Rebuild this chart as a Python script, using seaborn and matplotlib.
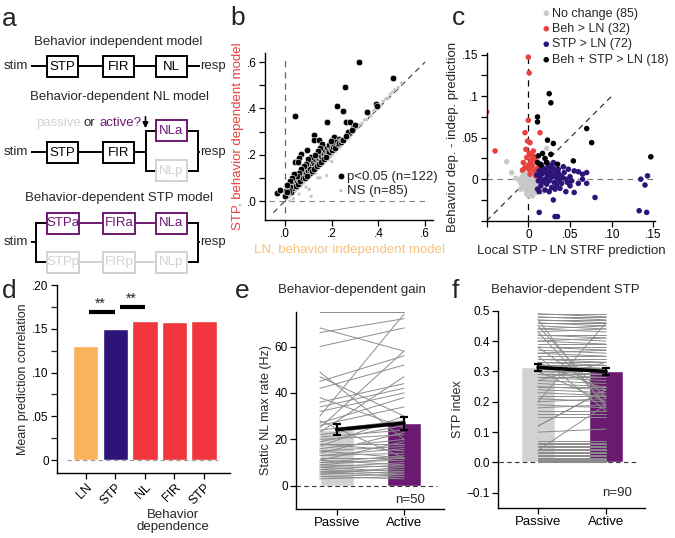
import numpy as np
import pandas as pd
import matplotlib
matplotlib.use('Agg')
import matplotlib.pyplot as plt
from matplotlib.patches import Rectangle
import matplotlib.transforms as mtransforms
import seaborn as sns

# ---------------- data ----------------
# panel b: significant (black) and NS (gray) cells
b_sig_x = [0.318, 0.461, 0.256, 0.043, 0.224, 0.250, 0.179, 0.262, 0.280, 0.353, 0.390, 0.293, 0.276,
           0.124, 0.125, 0.146, 0.160, 0.200, 0.210, 0.230, 0.093, 0.070, 0.060, 0.043, 0.036, -0.036,
           -0.021, 0.000, 0.025, 0.002, 0.054, 0.392, 0.235, 0.270,
           0.030, 0.035, 0.040, 0.045, 0.050, 0.055, 0.060, 0.065, 0.070, 0.075, 0.080, 0.085, 0.090,
           0.095, 0.100, 0.100, 0.105, 0.110, 0.110, 0.115, 0.120, 0.120, 0.125, 0.130, 0.130, 0.135,
           0.140, 0.140, 0.145, 0.150, 0.150, 0.155, 0.160, 0.160, 0.165, 0.170, 0.170, 0.175, 0.180,
           0.180, 0.185, 0.190, 0.190, 0.195, 0.200, 0.200, 0.205, 0.210, 0.215, 0.220, 0.225, 0.230,
           0.240, 0.245, 0.250, 0.030, 0.020, 0.015, 0.010, 0.045, 0.055, 0.065, 0.075, 0.085, 0.095,
           0.105, 0.115, 0.125, 0.135, 0.145, 0.155, 0.165, 0.175, 0.110, 0.100, 0.090, 0.080, 0.070,
           0.150, 0.140, 0.130, 0.060, 0.050, 0.040, 0.028, 0.020, 0.010, 0.300, 0.285, 0.260, 0.195]
b_sig_y = [0.601, 0.532, 0.493, 0.367, 0.410, 0.390, 0.340, 0.340, 0.340, 0.385, 0.420, 0.316, 0.295,
           0.286, 0.262, 0.262, 0.245, 0.262, 0.275, 0.266, 0.220, 0.203, 0.185, 0.170, 0.100, 0.036,
           0.047, 0.020, 0.040, 0.043, 0.170, 0.410, 0.260, 0.300,
           0.075, 0.065, 0.085, 0.095, 0.080, 0.100, 0.090, 0.110, 0.095, 0.120, 0.105, 0.125, 0.115,
           0.140, 0.130, 0.150, 0.120, 0.160, 0.140, 0.150, 0.135, 0.170, 0.155, 0.180, 0.145, 0.165,
           0.185, 0.160, 0.175, 0.200, 0.170, 0.190, 0.210, 0.180, 0.200, 0.220, 0.190, 0.205, 0.230,
           0.200, 0.215, 0.240, 0.210, 0.225, 0.250, 0.220, 0.235, 0.245, 0.230, 0.255, 0.245, 0.250,
           0.255, 0.262, 0.265, 0.055, 0.060, 0.045, 0.038, 0.065, 0.075, 0.085, 0.100, 0.100, 0.110,
           0.140, 0.130, 0.140, 0.150, 0.160, 0.170, 0.180, 0.190, 0.190, 0.180, 0.160, 0.150, 0.140,
           0.230, 0.215, 0.200, 0.120, 0.110, 0.115, 0.100, 0.085, 0.070, 0.330, 0.305, 0.280, 0.260]
b_ns_x = [0.005, 0.012, 0.018, 0.025, 0.030, 0.038, 0.042, 0.050, 0.055, 0.062, 0.068, 0.072, 0.080,
          0.085, 0.090, 0.095, 0.100, 0.104, 0.108, 0.112, 0.115, 0.120, 0.125, 0.130, 0.135, 0.140,
          0.145, 0.150, 0.152, 0.158, 0.162, 0.168, 0.172, 0.178, 0.180, 0.185, 0.190, 0.195, 0.200,
          0.205, 0.210, 0.215, 0.220, 0.225, 0.230, 0.235, 0.240, 0.245, 0.250, 0.255, 0.260, 0.265,
          0.270, 0.275, 0.280, 0.285, 0.290, 0.295, 0.300, 0.310, 0.315, 0.320, 0.330, 0.340, 0.350,
          0.360, 0.370, 0.380, 0.390, 0.400, 0.410, 0.420, 0.430, 0.440, 0.450, 0.460, 0.470, 0.485,
          0.500, 0.060, 0.090, 0.035, 0.020, 0.140, 0.200]
b_ns_y = [0.010, 0.030, 0.020, 0.035, 0.028, 0.050, 0.040, 0.060, 0.052, 0.070, 0.065, 0.085, 0.078,
          0.090, 0.100, 0.092, 0.112, 0.050, 0.108, 0.020, 0.125, 0.118, 0.130, 0.120, 0.142, 0.138,
          0.150, 0.100, 0.160, 0.155, 0.170, 0.165, 0.180, 0.110, 0.185, 0.178, 0.195, 0.190, 0.210,
          0.200, 0.218, 0.212, 0.225, 0.232, 0.228, 0.240, 0.238, 0.250, 0.255, 0.260, 0.262, 0.270,
          0.280, 0.272, 0.290, 0.285, 0.300, 0.298, 0.310, 0.315, 0.325, 0.330, 0.335, 0.350, 0.352,
          0.370, 0.368, 0.390, 0.395, 0.410, 0.415, 0.430, 0.440, 0.445, 0.460, 0.470, 0.480, 0.490,
          0.510, 0.030, 0.060, 0.010, 0.000, 0.100, 0.170]

# panel c: four groups
c_gray_x = [-0.050, -0.026, -0.020, -0.015, 0.022, 0.017, 0.000, 0.005, -0.005, -0.010, -0.008, -0.006,
            -0.004, -0.003, -0.002, -0.001, 0.000, 0.001, 0.002, 0.003, 0.004, 0.005, 0.006, 0.007,
            0.008, 0.009, 0.010, 0.011, 0.012, 0.013, 0.014, -0.007, -0.009, 0.000, 0.003, 0.006,
            -0.002, 0.002, -0.004, 0.008, 0.004, -0.001, 0.005, 0.009, -0.006, 0.001, 0.007, -0.003,
            0.011, 0.002, -0.005, 0.006, 0.000, 0.003, -0.008, 0.012, 0.010, -0.002, 0.004, 0.007]
c_gray_y = [0.005, 0.021, 0.008, 0.001, 0.037, -0.015, -0.020, -0.020, -0.010, -0.003, 0.002, -0.006,
            0.004, -0.002, 0.006, -0.008, 0.000, 0.003, -0.004, 0.008, -0.012, 0.001, -0.006, 0.005,
            -0.002, -0.009, 0.002, -0.005, 0.008, -0.012, -0.001, 0.009, -0.012, -0.014, -0.016, 0.010,
            0.012, 0.000, -0.004, 0.003, 0.006, 0.002, -0.009, 0.006, 0.000, -0.011, -0.014, -0.013,
            0.004, 0.010, 0.005, -0.001, 0.007, -0.007, -0.007, -0.008, -0.016, -0.017, 0.002, 0.000]
c_red_x = [0.000, 0.001, -0.050, -0.040, 0.000, -0.004, 0.014, -0.001, 0.002, 0.001, 0.004, -0.002,
           0.006, 0.008, -0.006, 0.003, 0.010, -0.004, 0.001, 0.005, 0.007, 0.011, -0.007, 0.002,
           0.012, 0.009, 0.004, 0.006, -0.003, 0.003, 0.000, 0.013]
c_red_y = [0.147, 0.128, 0.081, 0.034, 0.071, 0.056, 0.056, 0.046, 0.044, 0.031, 0.028, 0.026,
           0.024, 0.027, 0.020, 0.019, 0.021, 0.014, 0.012, 0.016, 0.010, 0.013, 0.011, 0.006,
           0.006, 0.004, 0.030, 0.034, 0.036, 0.022, 0.017, 0.018]
c_blue_x = [0.010, 0.012, 0.013, 0.014, 0.015, 0.016, 0.017, 0.018, 0.019, 0.020, 0.021, 0.022, 0.023,
            0.024, 0.025, 0.026, 0.027, 0.028, 0.029, 0.030, 0.031, 0.032, 0.033, 0.034, 0.035, 0.036,
            0.037, 0.038, 0.040, 0.041, 0.043, 0.045, 0.047, 0.048, 0.050, 0.052, 0.011, 0.013, 0.020,
            0.025, 0.032, 0.015, 0.022, 0.030, 0.013, 0.030, 0.032, 0.035, 0.045, 0.055, 0.060, 0.060,
            0.065, 0.070, 0.070, 0.065, 0.080, 0.055, 0.042, 0.133, 0.142, 0.140, 0.135, 0.143, 0.018,
            0.027, 0.038, 0.024, 0.016, 0.028, 0.050, 0.036]
c_blue_y = [0.005, -0.002, 0.010, 0.002, -0.008, 0.006, 0.014, -0.003, 0.008, 0.000, 0.012, -0.006,
            0.004, 0.016, -0.002, 0.009, 0.002, -0.010, 0.006, 0.013, -0.004, 0.003, 0.010, -0.007,
            0.001, 0.007, -0.002, 0.004, -0.005, 0.002, 0.008, 0.000, -0.004, 0.012, 0.003, -0.002,
            -0.012, -0.015, -0.013, -0.015, -0.012, 0.018, 0.020, 0.020, -0.040, -0.025, -0.045, -0.045,
            -0.015, -0.016, -0.005, 0.009, 0.000, -0.005, 0.008, 0.006, -0.022, 0.010, 0.015, -0.038,
            -0.040, -0.007, 0.000, 0.004, 0.011, 0.014, -0.011, 0.007, -0.004, 0.017, -0.008, 0.012]
c_black_x = [0.025, 0.027, 0.011, 0.011, 0.023, 0.030, 0.070, 0.076, 0.147, 0.054, 0.017, 0.027,
             0.011, 0.015, 0.020, 0.035, 0.012, 0.022]
c_black_y = [0.103, 0.092, 0.075, 0.069, 0.047, 0.043, 0.061, 0.044, 0.027, 0.022, 0.031, 0.030,
             0.020, 0.017, 0.025, 0.018, 0.028, 0.020]
c_labels = ['No change (85)', 'Beh > LN (32)', 'STP > LN (72)', 'Beh + STP > LN (18)']

# panel d
d_keys = ['LN', 'STP', 'NL', 'FIR', 'STP_beh']
d_labels = ['LN', 'STP', 'NL', 'FIR', 'STP']
d_vals = [0.130, 0.150, 0.159, 0.158, 0.159]

# panel e
cond = ['Passive', 'Active']
e_bar = [24.2, 27.0]
e_err = [2.5, 2.8]
passive_e = [75, 68, 66, 60, 49, 47, 45, 42, 38, 36, 34, 32, 30, 28, 27, 26, 25, 24, 23, 22, 21, 20,
             19, 18, 18, 17, 16, 15, 15, 14, 13, 13, 12, 11, 11, 10, 10, 9, 9, 8, 8, 7, 7, 6, 6, 5, 5,
             4, 4, 3]
active_e = [75, 58, 72, 68, 20, 30, 56, 52, 25, 44, 42, 40, 74, 12, 38, 34, 58, 28, 47, 27, 24, 22,
            26, 18, 15, 30, 20, 17, 12, 23, 16, 14, 12, 9, 19, 13, 11, 8, 12, 10, 6, 9, 5, 7, 4, 8, 6,
            3, 5, 4]

# panel f
f_bar = [0.313, 0.300]
f_err = [0.012, 0.011]
passive_f = [0.49, 0.49, 0.48, 0.48, 0.47, 0.47, 0.46, 0.46, 0.45, 0.44, 0.44, 0.43, 0.42, 0.42, 0.41,
             0.40, 0.40, 0.39, 0.38, 0.38, 0.37, 0.36, 0.36, 0.35, 0.34, 0.34, 0.33, 0.33, 0.32, 0.32,
             0.31, 0.31, 0.30, 0.30, 0.29, 0.29, 0.28, 0.28, 0.27,
             0.26, 0.25, 0.25, 0.24, 0.23, 0.22, 0.21, 0.20, 0.19, 0.18, 0.17, 0.16, 0.15, 0.12, 0.10,
             0.07, 0.065, 0.06, 0.055, 0.05, 0.045, 0.04, 0.04, 0.035, 0.03, 0.03, 0.025, 0.02, 0.02,
             0.015, 0.015, 0.01, 0.01, 0.008, 0.005, 0.005, 0.003, 0.002, 0.001, 0.0,
             0.47, 0.45, 0.43, 0.38, 0.35, 0.33, 0.30, 0.27, 0.12, 0.04, 0.20]
active_f = [0.49, 0.48, 0.48, 0.47, 0.46, 0.47, 0.46, 0.45, 0.44, 0.45, 0.43, 0.44, 0.41, 0.42, 0.40,
            0.41, 0.39, 0.39, 0.37, 0.38, 0.36, 0.37, 0.35, 0.35, 0.33, 0.34, 0.32, 0.33, 0.31, 0.32,
            0.30, 0.31, 0.29, 0.30, 0.28, 0.29, 0.27, 0.28, 0.26,
            0.25, 0.25, 0.24, 0.23, 0.22, 0.22, 0.20, 0.21, 0.18, 0.19, 0.17, 0.16, 0.15, 0.24, 0.11,
            0.07, 0.065, 0.06, 0.055, 0.05, 0.045, 0.04, 0.04, 0.035, 0.03, 0.03, 0.025, 0.02, 0.02,
            0.015, 0.015, 0.01, 0.01, 0.008, 0.005, 0.005, 0.003, 0.002, 0.001, 0.0,
            0.18, 0.21, 0.19, 0.22, 0.17, 0.24, 0.20, 0.33, 0.24, 0.19, 0.46]

# ---------------- style ----------------
ORANGE = '#fbb25d'
INDIGO = '#2c1479'
RED = '#f0353d'
RED_PT = '#e8413e'
PURPLE = '#6b1a72'
LGRAY = '#d2d2d2'
PTGRAY = '#c8c8c8'

sns.set_style('ticks')
plt.rcParams['font.family'] = ['Liberation Sans', 'DejaVu Sans']
plt.rcParams['axes.linewidth'] = 1.0
plt.rcParams['axes.edgecolor'] = 'black'

W, H = 675, 538
fig = plt.figure(figsize=(W / 100, H / 100), dpi=100)


def rect(l, t, r, b):
    return [l / W, 1 - b / H, (r - l) / W, (b - t) / H]


def style(ax):
    sns.despine(ax=ax)
    ax.tick_params(direction='out', length=4, width=0.9, labelsize=8.5, colors='black', pad=2)
    ax.tick_params(which='minor', direction='out', length=4, width=0.9)
    ax.set_facecolor('none')


# ---------------- panel a (diagram) + letters ----------------
axA = fig.add_axes([0, 0, 1, 1])
axA.set_xlim(0, W)
axA.set_ylim(H, 0)
axA.axis('off')

LW = 1.4


def box(x0, x1, yc, label, color):
    axA.add_patch(Rectangle((x0, yc - 10.5), x1 - x0, 21, facecolor='white', edgecolor=color, lw=LW, zorder=3))
    axA.text((x0 + x1) / 2, yc + 0.5, label, ha='center', va='center', fontsize=9.5, color=color, zorder=4)


def hline(x0, x1, y, color='black'):
    axA.plot([x0, x1], [y, y], color=color, lw=LW, solid_capstyle='butt', zorder=2)


def vline(x, y0, y1, color='black'):
    axA.plot([x, x], [y0, y1], color=color, lw=LW, solid_capstyle='projecting', zorder=2)


tfs = 9.5
axA.text(118, 42, 'Behavior independent model', ha='center', va='center', fontsize=tfs)
axA.text(120, 97, 'Behavior-dependent NL model', ha='center', va='center', fontsize=tfs)
axA.text(119, 198, 'Behavior-dependent STP model', ha='center', va='center', fontsize=tfs)

# row 1
y1 = 66
axA.text(4, y1, 'stim', ha='left', va='center', fontsize=tfs)
hline(31, 47, y1); box(47, 78, y1, 'STP', 'black')
hline(78, 103, y1); box(103, 134, y1, 'FIR', 'black')
hline(134, 156, y1); box(156, 187, y1, 'NL', 'black')
hline(187, 200, y1)
axA.text(200, y1, 'resp', ha='left', va='center', fontsize=tfs)

# row 2
y2, ya, yp = 152, 130.5, 170.5
axA.text(4, y2, 'stim', ha='left', va='center', fontsize=tfs)
hline(31, 47, y2); box(47, 78, y2, 'STP', 'black')
hline(78, 103, y2); box(103, 134, y2, 'FIR', 'black')
hline(134, 145.5, y2)
vline(145.5, ya, yp)
hline(145.5, 156, ya); hline(145.5, 156, yp)
box(156, 187, ya, 'NLa', PURPLE)
box(156, 187, yp, 'NLp', LGRAY)
hline(187, 198, ya); hline(187, 198, yp)
vline(198, ya, yp)
hline(198, 200, y2)
axA.text(200, y2, 'resp', ha='left', va='center', fontsize=tfs)
axA.text(36, 123, 'passive', ha='left', va='center', fontsize=tfs, color=LGRAY)
axA.text(84, 123, 'or', ha='left', va='center', fontsize=tfs)
axA.text(99, 123, 'active?', ha='left', va='center', fontsize=tfs, color=PURPLE)
axA.annotate('', xy=(145.5, 131), xytext=(145.5, 114),
             arrowprops=dict(arrowstyle='-|>', color='black', lw=1.2, mutation_scale=8))

# row 3
y3, ya3, yp3 = 242, 223, 262
axA.text(4, y3, 'stim', ha='left', va='center', fontsize=tfs)
hline(31, 36, y3)
vline(36, ya3, yp3)
hline(36, 47, ya3); hline(36, 47, yp3)
box(47, 79, ya3, 'STPa', PURPLE)
hline(79, 103, ya3, PURPLE); box(103, 135, ya3, 'FIRa', PURPLE)
hline(135, 156, ya3, PURPLE); box(156, 187, ya3, 'NLa', PURPLE)
box(47, 79, yp3, 'STPp', LGRAY)
hline(79, 103, yp3, LGRAY); box(103, 135, yp3, 'FIRp', LGRAY)
hline(135, 156, yp3, LGRAY); box(156, 187, yp3, 'NLp', LGRAY)
hline(187, 198, ya3); hline(187, 198, yp3)
vline(198, ya3, yp3)
hline(198, 200, y3)
axA.text(200, y3, 'resp', ha='left', va='center', fontsize=tfs)

# panel letters
for lab, x, y in [('a', 2, 26), ('b', 230, 25), ('c', 452, 25),
                  ('d', 2, 298), ('e', 235, 298), ('f', 452, 298)]:
    axA.text(x, y, lab, ha='left', va='baseline', fontsize=19)

axA.text(352, 290, 'Behavior-dependent gain', ha='center', va='center', fontsize=9.5)
axA.text(565, 290, 'Behavior-dependent STP', ha='center', va='center', fontsize=9.5)

# ---------------- panel b ----------------
axB = fig.add_axes(rect(265, 53, 433, 220))
axB.plot([0, 0], [-0.05, 0.62], ls=(0, (5, 4)), color='#666666', lw=0.9, zorder=1)
axB.plot([-0.07, 0.6], [0, 0], ls=(0, (5, 4)), color='#888888', lw=0.8, zorder=1)
axB.plot([-0.05, 0.6], [-0.05, 0.6], ls=(0, (5, 4)), color='#333333', lw=0.8, zorder=1)
sns.scatterplot(x=b_ns_x, y=b_ns_y, color=PTGRAY, s=6, edgecolor='none', ax=axB,
                label='NS (n=85)', zorder=2)
sns.scatterplot(x=b_sig_x, y=b_sig_y, color='black', s=22, edgecolor='white', linewidth=0.4,
                ax=axB, label='p<0.05 (n=122)', zorder=3)
axB.set_xlim(-0.086, 0.634)
axB.set_ylim(-0.082, 0.639)
axB.set_xticks([0, 0.2, 0.4, 0.6])
axB.set_xticklabels(['.0', '.2', '.4', '.6'])
axB.set_yticks([0, 0.1, 0.2, 0.3, 0.4, 0.5, 0.6])
axB.set_yticklabels(['.0', '', '.2', '', '.4', '', '.6'])
style(axB)
axB.set_xlabel('LN, behavior independent model', color='#f9c17c', fontsize=9.5, labelpad=3)
axB.set_ylabel('STP, behavior dependent model', color=RED_PT, fontsize=9.5, labelpad=2)
h, l = axB.get_legend_handles_labels()
axB.legend(h[::-1], l[::-1], loc='center left', bbox_to_anchor=(0.42, 0.216), frameon=False,
           fontsize=9.5, borderpad=0, borderaxespad=0, handlelength=0.8, handletextpad=0.1,
           labelspacing=0.15)

# ---------------- panel c ----------------
axC = fig.add_axes(rect(486.7, 53, 655, 220.7))
axC.plot([0, 0], [-0.05, 0.152], ls=(0, (5, 4)), color='black', lw=0.9, zorder=1)
axC.plot([-0.05, 0.152], [0, 0], ls=(0, (5, 4)), color='#777777', lw=0.8, zorder=1)
axC.plot([-0.05, 0.102], [-0.05, 0.102], ls=(0, (5, 4)), color='#222222', lw=0.8, zorder=1)
for xs, ys, col, lab in [(c_gray_x, c_gray_y, PTGRAY, c_labels[0]),
                         (c_red_x, c_red_y, RED_PT, c_labels[1]),
                         (c_blue_x, c_blue_y, INDIGO, c_labels[2]),
                         (c_black_x, c_black_y, 'black', c_labels[3])]:
    sns.scatterplot(x=xs, y=ys, color=col, s=16, edgecolor='none', ax=axC, label=lab, zorder=2)
axC.set_xlim(-0.05, 0.152)
axC.set_ylim(-0.05, 0.152)
axC.set_xticks([-0.05, 0, 0.05, 0.10, 0.15])
axC.set_xticklabels(['', '0', '.05', '.10', '.15'])
axC.set_yticks([-0.05, -0.025, 0, 0.025, 0.05, 0.075, 0.1, 0.125, 0.15])
axC.set_yticklabels(['', '', '0', '', '.05', '', '.1', '', '.15'])
style(axC)
axC.set_xlabel('Local STP - LN STRF prediction', fontsize=9.5, labelpad=3)
axC.set_ylabel('Behavior dep. - indep. prediction', fontsize=9.5, labelpad=2)
axC.legend(loc='upper left', bbox_to_anchor=(542.5 / W, 1 - 7.5 / H), bbox_transform=fig.transFigure,
           frameon=False, fontsize=9, borderpad=0, borderaxespad=0, handlelength=0.6,
           handletextpad=0.15, labelspacing=0.28)

# ---------------- panel d ----------------
axD = fig.add_axes(rect(57, 285, 230, 473))
df_d = pd.DataFrame({'model': d_keys, 'r': d_vals})
sns.barplot(data=df_d, x='model', y='r', hue='model',
            palette=dict(zip(d_keys, [ORANGE, INDIGO, RED, RED, RED])),
            width=0.85, saturation=1, errorbar=None, legend=False, ax=axD, zorder=2)
axD.plot([-0.64, 4.47], [0, 0], ls=(0, (4, 3)), color='#999999', lw=0.8, zorder=3)
axD.plot([0.1, 1.0], [0.1686, 0.1686], color='black', lw=3, solid_capstyle='butt')
axD.plot([1.15, 2.0], [0.1745, 0.1745], color='black', lw=3, solid_capstyle='butt')
axD.text(0.5, 0.1700, '**', ha='center', va='bottom', fontsize=10)
axD.text(1.55, 0.1760, '**', ha='center', va='bottom', fontsize=10)
axD.set_xlim(-0.98, 4.88)
axD.set_ylim(-0.0147, 0.20)
axD.set_yticks([0, 0.05, 0.10, 0.15, 0.20])
axD.set_yticklabels(['0', '.05', '.10', '.15', '.20'])
axD.set_yticks([0.025, 0.075, 0.125, 0.175], minor=True)
axD.set_xticks(range(5))
axD.set_xticklabels(d_labels, rotation=45, ha='right', rotation_mode='anchor')
style(axD)
axD.tick_params(axis='x', labelsize=9)
axD.set_xlabel('')
axD.set_ylabel('Mean prediction correlation', fontsize=9, labelpad=2)
axD.text(2.95, -0.255, 'Behavior\ndependence', ha='center', va='center', fontsize=9.5,
         linespacing=1.05, transform=mtransforms.blended_transform_factory(axD.transData, axD.transAxes))

# ---------------- panel e ----------------
axE = fig.add_axes(rect(296, 311.7, 444, 509))
sns.barplot(x=cond, y=e_bar, hue=cond, palette=dict(zip(cond, [LGRAY, PURPLE])), width=0.5,
            saturation=1, errorbar=None, legend=False, ax=axE, zorder=1)
for p, a in zip(passive_e, active_e):
    axE.plot([-0.25, 1], [p, a], color='#8c8c8c', lw=0.7, zorder=3)
axE.plot([-0.6, 1.49], [0, 0], ls=(0, (4, 3)), color='#333333', lw=0.8, zorder=2)
axE.errorbar([0, 1], e_bar, yerr=e_err, color='black', lw=2.6, capsize=3, capthick=1.6,
             elinewidth=1.6, zorder=5)
axE.set_xlim(-0.605, 1.594)
axE.set_ylim(-10, 75)
axE.set_yticks([0, 20, 40, 60])
style(axE)
axE.tick_params(axis='x', labelsize=9.5)
axE.set_ylabel('Static NL max rate (Hz)', fontsize=9, labelpad=2)
axE.text(1.09, -6, 'n=50', ha='center', va='center', fontsize=9.5)

# ---------------- panel f ----------------
axF = fig.add_axes(rect(498.3, 310.7, 645, 508))
sns.barplot(x=cond, y=f_bar, hue=cond, palette=dict(zip(cond, [LGRAY, PURPLE])), width=0.5,
            saturation=1, errorbar=None, legend=False, ax=axF, zorder=1)
for p, a in zip(passive_f, active_f):
    axF.plot([0, 1], [p, a], color='#8c8c8c', lw=0.7, zorder=3)
axF.plot([-0.58, 1.47], [0, 0], ls=(0, (4, 3)), color='#333333', lw=0.8, zorder=2)
axF.errorbar([0, 1], f_bar, yerr=f_err, color='black', lw=2.6, capsize=3, capthick=1.6,
             elinewidth=1.6, zorder=5)
axF.set_xlim(-0.584, 1.574)
axF.set_ylim(-0.15, 0.5)
axF.set_yticks([-0.1, 0.0, 0.1, 0.2, 0.3, 0.4, 0.5])
axF.set_yticklabels(['\u22120.1', '0.0', '0.1', '0.2', '0.3', '0.4', '0.5'])
style(axF)
axF.tick_params(axis='x', labelsize=9.5)
axF.set_ylabel('STP index', fontsize=9, labelpad=2)
axF.text(1.16, -0.1, 'n=90', ha='center', va='center', fontsize=9.5)

fig.savefig('out.png', dpi=100)
